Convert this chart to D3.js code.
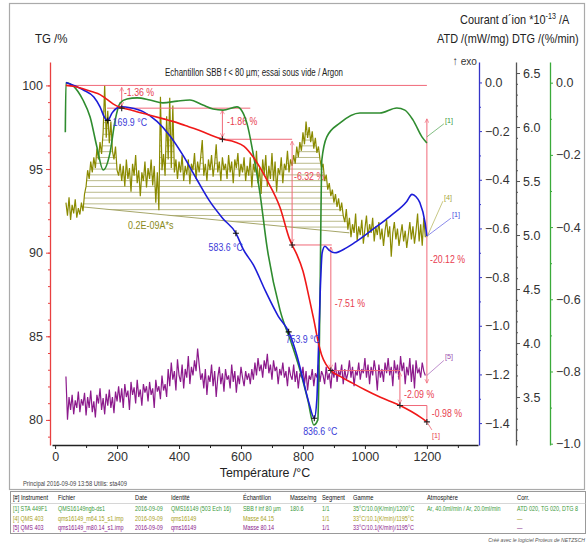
<!DOCTYPE html>
<html><head><meta charset="utf-8">
<script src="https://cdn.jsdelivr.net/npm/d3@7"></script>
<style>
body{margin:0;background:#fff;}
svg{display:block;font-family:"Liberation Sans",Arial,sans-serif;}
</style></head><body>
<svg id="chart" width="588" height="551"></svg>
<script>
// ---------------- DATA ----------------
// TG (mass %) vs temperature
const tgTemp=[35,60,90,120,145,165,187,205,220,250,300,350,380,420,460,500,542,580,610,640,684,726,758,765,780,800,820,835,850,860,875,890,920,960,1000,1050,1113,1150,1180,1200];
const tgVal=[100,99.95,99.8,99.62,99.45,99.2,98.9,98.72,98.64,98.5,98.25,98.0,97.85,97.6,97.35,97.05,96.78,96.62,96.35,95.7,94.33,92.7,90.75,90.46,89.9,88.9,87.3,86.0,84.6,83.9,83.3,82.95,82.6,82.2,81.8,81.35,80.86,80.5,80.15,79.88];
// ATD (mW/mg)
const atdTemp=[35,90,125,145,160,170,184,200,216,242,284,329,371,413,458,500,542,584,607,640,680,720,754,780,800,820,836.6,845,850,856,862,871,885,903,940,974,1026,1081,1135,1152,1165,1177,1194,1200];
const atdVal=[0,-0.03,-0.06,-0.10,-0.145,-0.156,-0.125,-0.105,-0.10,-0.104,-0.12,-0.16,-0.22,-0.30,-0.40,-0.49,-0.56,-0.62,-0.685,-0.75,-0.86,-0.96,-1.025,-1.12,-1.22,-1.32,-1.38,-1.30,-1.10,-0.85,-0.70,-0.673,-0.69,-0.70,-0.68,-0.652,-0.603,-0.55,-0.489,-0.46,-0.47,-0.493,-0.575,-0.632];
// DTG (%/min)
const dtgTemp=[33,35,60,90,113,135,155,177,194,210,232,265,306,348,394,435,477,510,542,587,619,639,661,684,726,765,790,816,835,848,855,861,877,919,984,1048,1103,1129,1155,1184,1200];
const dtgVal=[-0.137,0,-0.01,-0.048,-0.095,-0.178,-0.242,-0.195,-0.103,-0.056,-0.045,-0.042,-0.048,-0.056,-0.051,-0.048,-0.062,-0.073,-0.076,-0.067,-0.112,-0.195,-0.305,-0.455,-0.63,-0.727,-0.795,-0.88,-0.948,-0.934,-0.60,-0.214,-0.15,-0.112,-0.084,-0.084,-0.07,-0.076,-0.103,-0.15,-0.167];
// Ion current (*1e-13 A), sampled every 5 °C from 35 °C
const ionStartT=35, ionStepT=5;
const ion64=[5.30,5.18,5.35,5.14,5.28,5.20,5.33,5.16,5.25,5.19,5.30,
5.22,5.38,5.45,5.60,5.52,5.68,5.58,
5.72,5.62,5.80,5.70,5.86,5.75,5.95,
6.39,5.90,6.15,5.85,6.05,5.78,5.70,5.82,5.60,5.55,5.66,
5.50,5.64,5.45,5.70,5.52,5.62,5.40,5.66,5.55,5.74,5.48,5.60,5.36,5.58,5.50,5.68,5.44,5.62,5.52,5.70,5.46,5.64,5.30,5.58,
5.23,6.28,5.60,5.75,5.55,6.10,5.70,6.27,5.62,6.20,5.58,5.70,
5.52,5.68,5.58,5.74,5.50,5.64,5.56,5.70,5.47,5.66,5.60,5.76,5.52,5.68,5.58,5.72,5.88,5.55,5.66,5.50,5.70,5.60,5.74,5.54,5.66,5.84,5.58,5.68,5.50,5.72,5.60,5.66,5.52,5.74,5.58,5.68,5.48,5.70,5.62,5.76,5.54,5.66,5.58,5.72,5.50,5.64,
5.55,5.72,5.44,5.66,5.58,5.78,5.48,5.62,5.38,5.70,5.56,5.74,5.45,5.64,5.52,5.76,5.50,5.68,5.40,5.62,5.56,5.72,5.48,5.66,5.60,5.78,5.58,5.70,5.64,
5.74,5.66,5.82,5.72,5.86,5.78,5.95,5.84,6.05,5.90,6.00,5.86,5.96,5.80,5.90,5.76,5.82,
5.70,5.62,5.66,5.50,5.56,5.42,5.48,5.36,5.42,5.30,5.38,5.26,5.34,5.22,5.30,5.18,
5.12,5.24,5.05,5.16,4.98,5.10,5.02,5.20,4.95,5.08,5.00,5.14,4.92,5.06,5.18,4.98,5.10,5.02,5.16,4.94,5.08,5.00,5.12,4.96,5.06,4.90,5.04,5.14,4.98,5.08,4.80,5.02,5.12,4.96,5.06,4.90,5.00,5.10,4.94,5.04,4.88,5.00,5.12,4.96,5.08,4.92,5.04,5.20,4.94,5.10,4.90,5.16,4.98];
const ion80=[3.69,3.29,3.50,3.38,3.52,3.34,3.47,3.40,3.55,3.36,3.48,
3.42,3.54,3.33,3.50,3.40,3.56,3.36,3.46,3.31,3.52,3.44,3.58,3.38,3.49,3.34,3.53,3.42,3.57,3.40,3.50,3.35,3.55,3.46,
3.60,3.45,3.58,3.40,3.62,3.50,3.56,3.38,3.64,3.52,3.59,3.44,3.66,3.50,3.57,3.42,3.62,3.54,3.60,3.46,3.64,3.52,3.58,3.40,3.66,3.55,3.60,3.48,3.70,3.56,3.62,3.50,
3.76,3.60,3.82,3.66,3.74,3.56,3.85,3.70,3.64,3.80,3.58,3.76,3.68,3.88,3.62,3.78,3.70,3.84,3.74,3.95,3.80,3.66,
3.72,3.58,3.76,3.52,3.70,3.64,3.80,3.60,3.74,3.50,3.68,3.78,3.62,3.72,3.55,3.76,3.66,3.70,3.58,3.80,3.64,3.74,3.54,3.70,3.62,3.78,3.68,3.60,3.74,3.66,3.72,3.62,
3.76,3.66,3.82,3.70,3.86,3.74,3.80,3.68,3.84,3.76,3.90,3.72,3.80,3.66,3.84,3.74,3.78,3.62,3.76,3.70,
3.82,3.68,3.74,3.60,3.78,3.70,3.66,3.80,3.64,3.74,3.58,3.72,3.68,3.78,3.62,3.74,3.56,3.70,3.66,3.76,
3.60,3.72,3.68,3.80,3.64,3.74,3.70,3.62,3.78,3.66,3.72,3.58,3.76,3.68,3.82,3.64,3.74,3.70,3.80,3.62,
3.76,3.66,3.72,3.84,3.68,3.78,3.60,3.74,3.70,3.82,3.66,3.76,3.72,3.86,3.68,3.80,3.62,3.78,3.70,3.84,
3.74,3.56,3.80,3.68,3.76,3.64,3.82,3.72,3.86,3.70,3.78,3.60,3.84,3.72,3.80,3.66,3.88,3.74,3.82,3.62,
3.78,3.70,3.86,3.64,3.80,3.58,3.84,3.72,3.76,3.68,3.82,3.74,3.70];
// Integration baseline of the m/z 64 peak
const peakBaseT=[90,950];
const peakBaseV=[5.26,5.02];
// Mass-loss steps
const stepT=[215,540,765,890,1113];
const stepFrom=[100,98.64,96.78,90.46,82.95];
const stepTo=[98.64,96.78,90.46,82.95,80.86];
const stepLabels=["-1.36 %","-1.86 %","-6.32 %","-7.51 %","-2.09 %"];
const levelVal=[100,98.64,96.78,90.46,82.95,80.86];
const levelT0=[35,168,540,760,890,1113];
const levelT1=[1200,630,765,893,1113,1200];
const totalLabel="-20.12 %", lastLabel="-0.98 %";
// ATD peaks
const peakTemps=[169.9,583.6,753.9,836.6];
const peakAtd=[-0.156,-0.62,-1.025,-1.38];
// tick labels
const xTicks=[0,200,400,600,800,1000,1200];
const tgTicks=[80,85,90,95,100];
const atdTicks=[0,-0.2,-0.4,-0.6,-0.8,-1.0,-1.2,-1.4];
const ionTicks=[3.5,4.0,4.5,5.0,5.5,6.0,6.5];
const dtgTicks=[0,-0.2,-0.4,-0.6,-0.8,-1.0];
// table
const tableHeader=["[#] Instrument","Fichier","Date","Identité","Échantillon","Masse/mg","Segment","Gamme","Atmosphère","Corr."];
const tableRows=[
 ["[1] STA 449F1","QMS16149ngb-ds1","2016-09-09","QMS16149 (503 Ech 16)","SBB f inf 80 µm","180.6","1/1","35°C/10.0(K/min)/1200°C","Ar, 40.0ml/min / Ar, 20.0ml/min","ATD 020, TG 020, DTG 8"],
 ["[4] QMS 403","qms16149_m64.15_s1.imp","2016-09-09","qms16149","Masse  64.15","","1/1","33°C/10.1(K/min)/1195°C","","—"],
 ["[5] QMS 403","qms16149_m80.14_s1.imp","2016-09-09","qms16149","Masse  80.14","","1/1","33°C/10.1(K/min)/1195°C","","—"]];
const rowColors=["#3c9a3c","#a8a020","#8a1a8a"];

// ---------------- CHART ----------------
const svg=d3.select("#chart");
const FONT='"Liberation Sans",Arial,sans-serif';
const x=d3.scaleLinear().domain([-10,1365]).range([52,478]);
const yTG=d3.scaleLinear().domain([78.5,101.4]).range([445,62]);
const yATD=d3.scaleLinear().domain([-1.49,0.084]).range([445,62]);
const yION=d3.scaleLinear().domain([3.056,6.602]).range([445,62]);
const yDTG=d3.scaleLinear().domain([-1.0036,0.0573]).range([445,62]);

const C={red:"#f01818",blue:"#1c1cd8",green:"#2f8c2f",olive:"#8a8a00",purple:"#8c1a8c",pink:"#f06878",pinkText:"#e8404f",hatch:"#9c9c58"};

function ctext(px,py,txt,fs,col,sx,anchor){
  return svg.append("text").attr("transform",`translate(${px},${py}) scale(${sx||0.85},1)`)
   .attr("font-size",fs).attr("fill",col).attr("font-family",FONT).attr("text-anchor",anchor||"start").text(txt);
}

// frame
svg.append("rect").attr("x",9.5).attr("y",3.5).attr("width",575).attr("height",486).attr("fill","none").attr("stroke","#aaa").attr("stroke-width",1.2);

const defs=svg.append("defs");
defs.append("marker").attr("id","arr").attr("viewBox","0 0 10 10").attr("refX",9).attr("refY",5)
 .attr("markerWidth",5).attr("markerHeight",5).attr("orient","auto-start-reverse")
 .append("path").attr("d","M1,1 L9,5 L1,9").attr("fill","none").attr("stroke",C.pink).attr("stroke-width",1.3);

// ---- hatch area of m/z 64 peak ----
const ionPts64=ion64.map((v,i)=>({t:ionStartT+i*ionStepT,v}));
const ionPts80=ion80.map((v,i)=>({t:ionStartT+i*ionStepT,v}));
const baseAt=t=>peakBaseV[0]+(peakBaseV[1]-peakBaseV[0])*(t-peakBaseT[0])/(peakBaseT[1]-peakBaseT[0]);
const inPeak=ionPts64.filter(d=>d.t>=peakBaseT[0]&&d.t<=peakBaseT[1]);
defs.append("clipPath").attr("id","peakClip").append("path")
 .attr("d",d3.area().x(d=>x(d.t)).y0(d=>yION(baseAt(d.t))).y1(d=>yION(Math.max(d.v,baseAt(d.t))))(inPeak));
const hatchG=svg.append("g").attr("clip-path","url(#peakClip)");
for(let yy=yION(peakBaseV[1]);yy>62;yy-=5.8){
  hatchG.append("line").attr("x1",x(peakBaseT[0])).attr("x2",x(peakBaseT[1])).attr("y1",yy).attr("y2",yy)
   .attr("stroke",C.hatch).attr("stroke-width",0.7);
}
svg.append("line").attr("x1",x(peakBaseT[0])).attr("y1",yION(peakBaseV[0])).attr("x2",x(peakBaseT[1])).attr("y2",yION(peakBaseV[1]))
 .attr("stroke",C.hatch).attr("stroke-width",0.9);
ctext(x(235),yION(5.26)+22,"0.2E-09A*s",10,"#8a8a20",0.9);

// ---- curves ----
const line=(xs,ys,ysc,curve)=>d3.line().x((d,i)=>x(xs[i])).y((d,i)=>ysc(ys[i])).curve(curve||d3.curveMonotoneX)(xs);
svg.append("path").attr("d",d3.line().x(d=>x(d.t)).y(d=>yION(d.v))(ionPts80)).attr("fill","none").attr("stroke",C.purple).attr("stroke-width",1.2);
svg.append("path").attr("d",d3.line().x(d=>x(d.t)).y(d=>yION(d.v))(ionPts64)).attr("fill","none").attr("stroke",C.olive).attr("stroke-width",1.2);

// step annotations
levelVal.forEach((lv,i)=>{
  svg.append("line").attr("x1",x(levelT0[i])).attr("x2",x(levelT1[i])).attr("y1",yTG(lv)).attr("y2",yTG(lv))
   .attr("stroke",C.pink).attr("stroke-width",1);
});
stepT.forEach((t,i)=>{
  svg.append("line").attr("x1",x(t)).attr("x2",x(t)).attr("y1",yTG(stepFrom[i])+2).attr("y2",yTG(stepTo[i])-2)
   .attr("stroke",C.pink).attr("stroke-width",1).attr("marker-start","url(#arr)").attr("marker-end","url(#arr)");
});
svg.append("line").attr("x1",x(1200)).attr("x2",x(1200)).attr("y1",yTG(80.86)).attr("y2",yTG(79.88)).attr("stroke",C.pink).attr("stroke-width",1);
svg.append("line").attr("x1",x(1200)).attr("x2",x(1200)).attr("y1",yTG(98.0)).attr("y2",yTG(82.2))
 .attr("stroke",C.pink).attr("stroke-width",1).attr("marker-start","url(#arr)").attr("marker-end","url(#arr)");

const stepLabelPos=[[222,99.34],[555,97.61],[771,94.33],[903,86.75],[1126,81.31]];
stepLabels.forEach((s,i)=>ctext(x(stepLabelPos[i][0]),yTG(stepLabelPos[i][1]),s,10,C.pinkText,0.88));
ctext(x(1210),yTG(89.37),totalLabel,10,C.pinkText,0.88);
ctext(x(1216),yTG(80.18),lastLabel,10,C.pinkText,0.88);

svg.append("path").attr("d",line(dtgTemp,dtgVal,yDTG)).attr("fill","none").attr("stroke",C.green).attr("stroke-width",1.6);
svg.append("path").attr("d",line(atdTemp,atdVal,yATD)).attr("fill","none").attr("stroke",C.blue).attr("stroke-width",1.6);
svg.append("path").attr("d",line(tgTemp,tgVal,yTG)).attr("fill","none").attr("stroke",C.red).attr("stroke-width",1.6);

function cross(cx,cy,col){
  svg.append("path").attr("d",`M${cx-3},${cy}H${cx+3}M${cx},${cy-3}V${cy+3}`).attr("stroke",col).attr("stroke-width",1.1);
}
[[215,98.64],[540,96.78],[765,90.46],[890,82.95],[1113,80.86],[1200,79.88]].forEach(p=>cross(x(p[0]),yTG(p[1]),"#222"));
peakTemps.forEach((t,i)=>cross(x(t),yATD(peakAtd[i]),"#111"));
const peakLab=[[5,6,"start"],[7,18,"end"],[-3,11,"start"],[6,17,"middle"]];
peakTemps.forEach((t,i)=>ctext(x(t)+peakLab[i][0],yATD(peakAtd[i])+peakLab[i][1],t.toFixed(1)+" °C",10,"#3a3ad8",0.88,peakLab[i][2]));

function tag(x0,y0,dx,dy,txt,col){
  svg.append("line").attr("x1",x0).attr("y1",y0).attr("x2",x0+dx).attr("y2",y0+dy).attr("stroke",col).attr("stroke-width",0.9).attr("opacity",0.7);
  if(txt) ctext(x0+dx+1,y0+dy-1,txt,8,col,0.9);
}
tag(x(1200),yDTG(-0.15),17,-13,"[1]","#3c9a3c");
tag(x(1200),yION(4.98),16,-36,"[4]","#a8a840");
tag(x(1200),yATD(-0.632),24,-18,"[1]","#4a4ae0");
tag(x(1200),yION(3.70),17,-15,"[5]","#9a50b0");
tag(x(1200),yTG(79.88),5,8,"",C.pinkText);
ctext(x(1200)+5,yTG(79.88)+16,"[1]",8,C.pinkText,0.9);

// ---- axes ----
function styleAx(g,col,fs){
  g.select(".domain").attr("stroke",col).attr("stroke-width",1.3);
  g.selectAll(".tick line").attr("stroke",col);
  g.selectAll("text").attr("fill","#333").attr("font-size",fs||12).attr("font-family",FONT);
}
const fmt1=d3.format(".1f");
const gx=svg.append("g").attr("transform","translate(0,445)");
gx.call(d3.axisBottom(x).tickValues(xTicks).tickSize(4).tickSizeOuter(0).tickPadding(3).tickFormat(d3.format("d")));
styleAx(gx,"#222",12.5);
svg.append("g").attr("transform","translate(0,445)").call(d3.axisBottom(x).tickValues([100,300,500,700,900,1100,1300]).tickSize(3).tickFormat(""))
 .call(g=>{g.select(".domain").remove();g.selectAll("line").attr("stroke","#222");});
ctext(265,477,"Température /°C",13.5,"#222",0.92,"middle");

const gTG=svg.append("g").attr("transform","translate(50,0)");
gTG.call(d3.axisLeft(yTG).tickValues(tgTicks).tickSize(4).tickSizeOuter(0).tickPadding(3).tickFormat(d3.format("d")));
styleAx(gTG,"#e84040",12.5);
svg.append("g").attr("transform","translate(50,0)").call(d3.axisLeft(yTG).tickValues(d3.range(79,101,1)).tickSize(2).tickFormat(""))
 .call(g=>{g.select(".domain").remove();g.selectAll("line").attr("stroke","#e84040");});

const gA=svg.append("g").attr("transform","translate(479,0)");
gA.call(d3.axisRight(yATD).tickValues(atdTicks).tickSize(3).tickSizeOuter(0).tickPadding(3).tickFormat(fmt1));
styleAx(gA,"#3535c8",12.5);
svg.append("g").attr("transform","translate(479,0)").call(d3.axisRight(yATD).tickValues([-0.1,-0.3,-0.5,-0.7,-0.9,-1.1,-1.3]).tickSize(2).tickFormat(""))
 .call(g=>{g.select(".domain").remove();g.selectAll("line").attr("stroke","#3535c8");});

const gI=svg.append("g").attr("transform","translate(516,0)");
gI.call(d3.axisRight(yION).tickValues(ionTicks).tickSize(4).tickSizeOuter(0).tickPadding(3).tickFormat(fmt1));
styleAx(gI,"#555",12.5);
svg.append("g").attr("transform","translate(516,0)").call(d3.axisRight(yION).tickValues(d3.range(31,66,1).map(d=>d/10)).tickSize(2).tickFormat(""))
 .call(g=>{g.select(".domain").remove();g.selectAll("line").attr("stroke","#555");});

const gD=svg.append("g").attr("transform","translate(550,0)");
gD.call(d3.axisRight(yDTG).tickValues(dtgTicks).tickSize(3).tickSizeOuter(0).tickPadding(3).tickFormat(fmt1));
styleAx(gD,"#3aaa3a",12.5);
svg.append("g").attr("transform","translate(550,0)").call(d3.axisRight(yDTG).tickValues([-0.1,-0.3,-0.5,-0.7,-0.9]).tickSize(2).tickFormat(""))
 .call(g=>{g.select(".domain").remove();g.selectAll("line").attr("stroke","#3aaa3a");});

// titles
ctext(35,43,"TG /%",13.5,"#222",0.85);
const t1=svg.append("text").attr("transform","translate(460,24) scale(0.84,1)").attr("font-size",13).attr("fill","#222").attr("font-family",FONT);
t1.append("tspan").text("Courant d´ion *10");
t1.append("tspan").attr("font-size",8.5).attr("dy",-5).text("-13");
t1.append("tspan").attr("dy",5).text(" /A");
ctext(437,43,"ATD /(mW/mg)  DTG /(%/min)",13,"#222",0.84);
ctext(477,65,"↑ exo",11.5,"#333",0.88,"end");
svg.append("text").attr("x",165).attr("y",76).attr("font-size",10).attr("fill","#222").attr("font-family",FONT).attr("textLength",178).attr("lengthAdjust","spacingAndGlyphs").text("Echantillon SBB  f < 80 µm; essai sous vide / Argon");

ctext(23,486,"Principal   2016-09-09 13:58    Utilis: sta409",6.8,"#444",0.85);

// table
const colX=[13,58,135,171,243,290,322,353,427,517];
svg.append("rect").attr("x",10.5).attr("y",491.5).attr("width",575).attr("height",42).attr("fill","none").attr("stroke","#999").attr("stroke-width",1);
svg.append("line").attr("x1",10.5).attr("x2",585.5).attr("y1",503.5).attr("y2",503.5).attr("stroke","#ccc").attr("stroke-width",0.8);
tableHeader.forEach((h,j)=>ctext(colX[j],500,h,7,"#111",0.82));
tableRows.forEach((r,i)=>r.forEach((c,j)=>{ if(c) ctext(colX[j],511+i*9.5,c,6.8,rowColors[i],0.8); }));
ctext(585,542,"Créé avec le logiciel Proteus de NETZSCH",6,"#555",0.85,"end").attr("font-style","italic");
</script>
</body></html>
